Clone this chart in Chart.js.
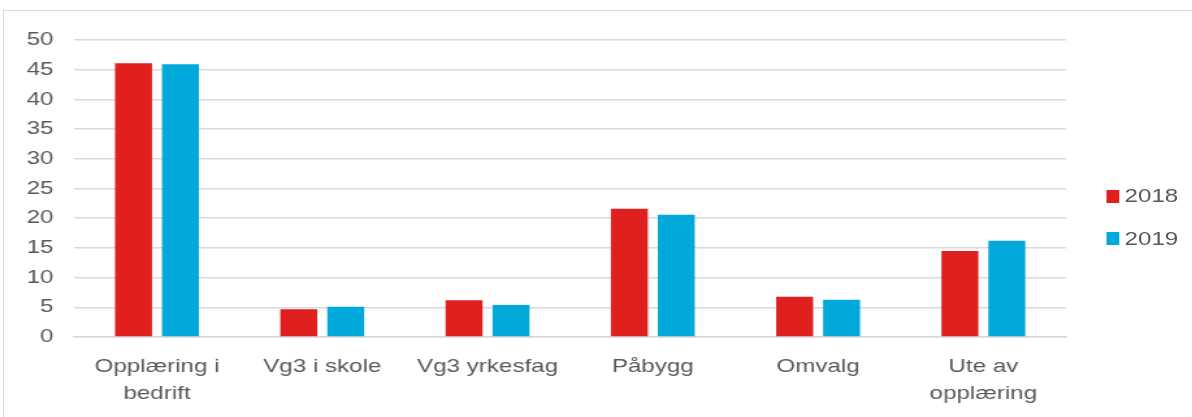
<!DOCTYPE html>
<html>
<head>
<meta charset="utf-8">
<script src="https://cdn.jsdelivr.net/npm/chart.js@4.4.1/dist/chart.umd.min.js"></script>
<style>
  html, body { margin: 0; padding: 0; background: #fff; overflow: hidden; }
  #frame { position: absolute; left: 3px; top: 10px; width: 1300px; height: 500px; border-left: 1px solid #d9d9d9; border-top: 1px solid #d9d9d9; box-sizing: border-box; }
  #stage { position: absolute; left: 0; top: 0; width: 917px; height: 417px; transform: scaleX(1.3); transform-origin: 0 0; }
  #c { position: absolute; left: 0; top: 0; }
  .lg { position: absolute; left: 851px; height: 13px; font: 18.6px 'Liberation Sans', Arial, sans-serif; color: #595959; white-space: nowrap; }
  .lg i { position: absolute; left: 0; top: 0; width: 10px; height: 13px; }
  .lg span { position: absolute; left: 14px; top: 50%; transform: translateY(-50%); line-height: 1; }
</style>
</head>
<body>
<div id="frame"></div>
<div id="stage">
  <canvas id="c" width="917" height="417"></canvas>
  <div id="legend"></div>
</div>
<script>
const categories = [["Opplæring i", "bedrift"], "Vg3 i skole", "Vg3 yrkesfag", "Påbygg", "Omvalg", ["Ute av", "opplæring"]];
const seriesNames = ["2018", "2019"];
const seriesColors = ["#e01f1f", "#00a9da"];
const values2018 = [46.1, 4.7, 6.2, 21.6, 6.8, 14.5];
const values2019 = [45.9, 5.1, 5.4, 20.6, 6.3, 16.2];
const yTicks = { min: 0, max: 50, step: 5 };

const FONT = "'Liberation Sans', Arial, sans-serif";
const TXT = '#595959';
const GRID = '#d9d9d9';

// legend (HTML, real text)
const legendEl = document.getElementById('legend');
seriesNames.forEach((name, i) => {
  const d = document.createElement('div');
  d.className = 'lg';
  d.style.top = (189.5 + i * 42.7) + 'px';
  d.innerHTML = '<i style="background:' + seriesColors[i] + '"></i><span>' + name + '</span>';
  legendEl.appendChild(d);
});

new Chart(document.getElementById('c'), {
  type: 'bar',
  data: {
    labels: categories,
    datasets: [
      { label: seriesNames[0], data: values2018, backgroundColor: seriesColors[0] },
      { label: seriesNames[1], data: values2019, backgroundColor: seriesColors[1] }
    ]
  },
  options: {
    responsive: false,
    animation: false,
    devicePixelRatio: 1,
    layout: { padding: { left: 4.5, top: 40, right: 97, bottom: -7 } },
    datasets: { bar: { categoryPercentage: 0.568, barPercentage: 0.787 } },
    plugins: {
      tooltip: { enabled: false },
      legend: { display: false }
    },
    scales: {
      x: {
        grid: { display: false, drawTicks: false },
        border: { display: true, color: GRID, width: 1.5 },
        ticks: {
          font: { family: FONT, size: 18.6, lineHeight: 1.45 },
          color: TXT,
          padding: 16.5,
          maxRotation: 0,
          autoSkip: false
        }
      },
      y: {
        min: yTicks.min,
        max: yTicks.max,
        grid: { color: GRID, lineWidth: 1.5, drawTicks: false },
        border: { display: false },
        ticks: {
          stepSize: yTicks.step,
          font: { family: FONT, size: 18.6 },
          color: TXT,
          padding: 16
        }
      }
    }
  }
});
</script>
</body>
</html>
